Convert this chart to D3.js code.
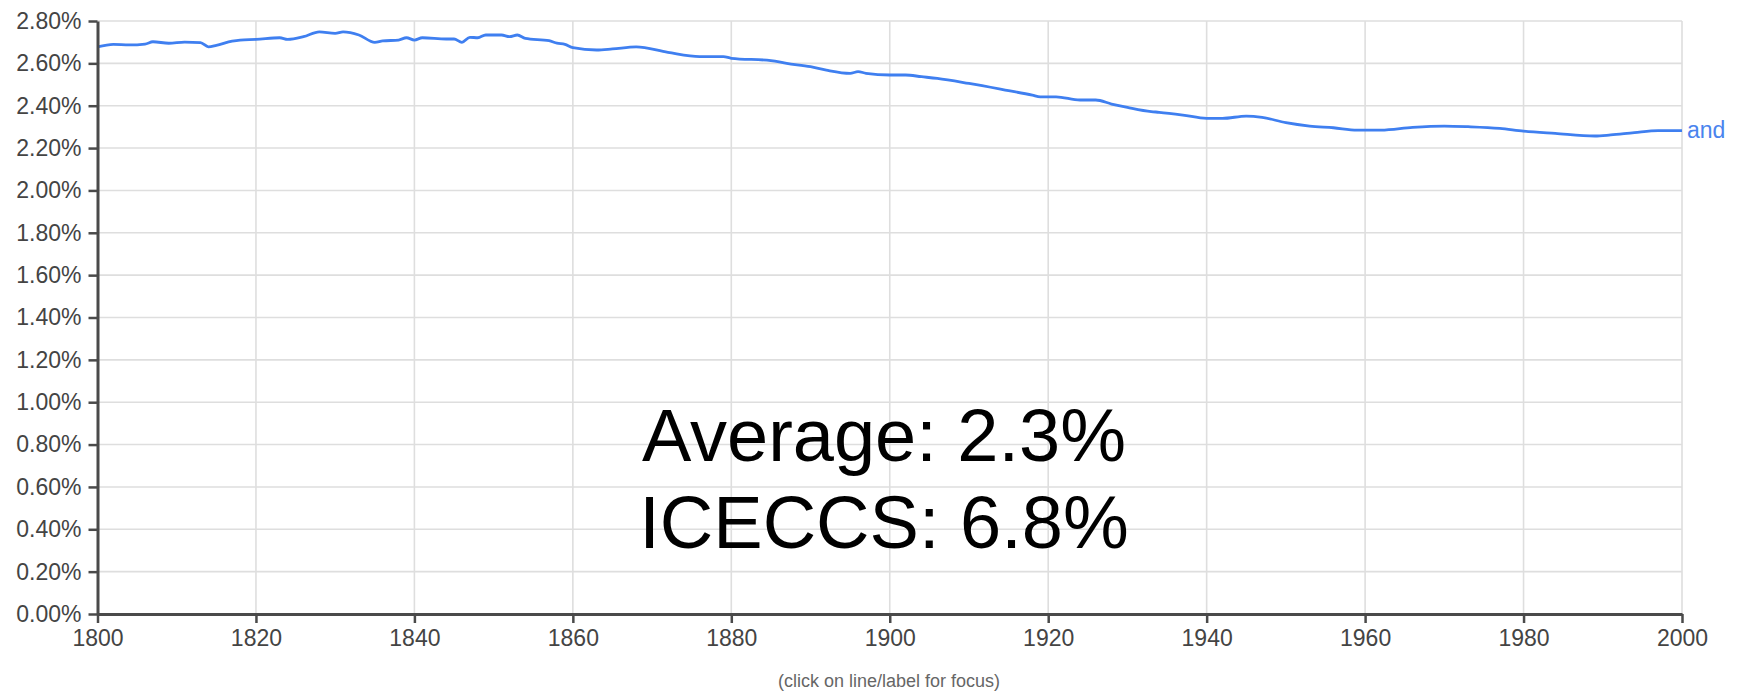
<!DOCTYPE html>
<html>
<head>
<meta charset="utf-8">
<script src="https://cdn.jsdelivr.net/npm/d3@7"></script>
<style>
  html, body { margin: 0; padding: 0; background: #fff; }
  svg { display: block; }
  text { font-family: "Liberation Sans", Arial, Helvetica, sans-serif; }
</style>
</head>
<body>
<svg id="chart" width="1740" height="691"></svg>
<script>
// ---- data ----
const years = [1800,1802,1804,1806,1807,1809,1811,1813,1814,1815,1817,1818,1820,1823,1824,1826,1828,1830,1831,1833,1835,1836,1838,1839,1840,1841,1844,1845,1846,1847,1848,1849,1851,1852,1853,1854,1857,1858,1859,1860,1863,1865,1868,1872,1876,1879,1880,1885,1887,1890,1892,1895,1896,1897,1900,1902,1904,1906,1910,1915,1918,1919,1921,1924,1926,1928,1930,1933,1934,1937,1940,1942,1945,1947,1950,1953,1956,1959,1962,1966,1970,1973,1977,1980,1984,1989,1991,1994,1997,2000];
const andValues = [2.678,2.690,2.687,2.691,2.702,2.695,2.700,2.698,2.678,2.685,2.705,2.710,2.713,2.721,2.713,2.726,2.749,2.742,2.749,2.734,2.699,2.706,2.710,2.721,2.710,2.721,2.715,2.715,2.699,2.723,2.721,2.734,2.734,2.726,2.734,2.718,2.707,2.695,2.690,2.674,2.663,2.668,2.678,2.652,2.632,2.632,2.624,2.613,2.600,2.584,2.568,2.553,2.561,2.553,2.545,2.545,2.537,2.529,2.505,2.471,2.450,2.442,2.442,2.427,2.427,2.408,2.392,2.372,2.369,2.356,2.340,2.340,2.351,2.345,2.320,2.304,2.296,2.285,2.285,2.298,2.304,2.301,2.293,2.280,2.269,2.257,2.262,2.273,2.282,2.282];
const seriesName = "and";
const xTicks = [1800,1820,1840,1860,1880,1900,1920,1940,1960,1980,2000];
const yTicks = [0,0.2,0.4,0.6,0.8,1.0,1.2,1.4,1.6,1.8,2.0,2.2,2.4,2.6,2.8];
const overlayLines = ["Average: 2.3%", "ICECCS: 6.8%"];
const caption = "(click on line/label for focus)";

(function () {
// ---- layout ----
const svg = d3.select("#chart");
const mLeft = 97.5, mRight = 1682, mTop = 21, mBottom = 614;

const x = d3.scaleLinear().domain([1800, 2000]).range([mLeft, mRight]);
const y = d3.scaleLinear().domain([0, 2.8]).range([mBottom, mTop]);

// grid
const grid = svg.append("g").attr("stroke", "#dedede").attr("stroke-width", 1.6);
grid.selectAll("line.h").data(yTicks.filter(d => d > 0)).enter().append("line")
  .attr("x1", mLeft).attr("x2", mRight)
  .attr("y1", d => y(d)).attr("y2", d => y(d));
grid.selectAll("line.v").data(xTicks.filter(d => d > 1800)).enter().append("line")
  .attr("x1", d => x(d)).attr("x2", d => x(d))
  .attr("y1", mTop).attr("y2", mBottom);

// line
const line = d3.line()
  .x((d, i) => x(years[i]))
  .y(d => y(d))
  .curve(d3.curveMonotoneX);
svg.append("path")
  .datum(andValues)
  .attr("fill", "none")
  .attr("stroke", "#3f7ff0")
  .attr("stroke-width", 2.8)
  .attr("stroke-linejoin", "round")
  .attr("d", line);

// series label
svg.append("text")
  .attr("x", x(years[years.length - 1]) + 5)
  .attr("y", y(andValues[andValues.length - 1]))
  .attr("dy", "0.3em")
  .attr("font-size", 23)
  .attr("fill", "#4a84ee")
  .text(seriesName);

// axes
const axisColor = "#4a4a4a";
const yAxis = svg.append("g")
  .attr("transform", `translate(${mLeft},0)`)
  .call(d3.axisLeft(y).tickValues(yTicks).tickFormat(d => d.toFixed(2) + "%").tickSize(9).tickSizeOuter(0).tickPadding(7));
const xAxis = svg.append("g")
  .attr("transform", `translate(0,${mBottom})`)
  .call(d3.axisBottom(x).tickValues(xTicks).tickFormat(d3.format("d")).tickSize(9).tickSizeOuter(0).tickPadding(7));
[yAxis, xAxis].forEach(g => {
  g.select(".domain").attr("stroke", axisColor).attr("stroke-width", 3);
  g.selectAll(".tick line").attr("stroke", axisColor).attr("stroke-width", 2.5);
  g.selectAll(".tick text").attr("fill", "#444").attr("font-size", 23)
    .attr("font-family", "'Liberation Sans', Arial, sans-serif");
});

// overlay text
svg.selectAll("text.overlay").data(overlayLines).enter().append("text")
  .attr("class", "overlay")
  .attr("x", 884)
  .attr("y", (d, i) => 461 + i * 87)
  .attr("text-anchor", "middle")
  .attr("font-size", 74)
  .attr("fill", "#000")
  .text(d => d);

// caption
svg.append("text")
  .attr("x", 889)
  .attr("y", 687)
  .attr("text-anchor", "middle")
  .attr("font-size", 18)
  .attr("fill", "#666")
  .text(caption);
})();
</script>
</body>
</html>
